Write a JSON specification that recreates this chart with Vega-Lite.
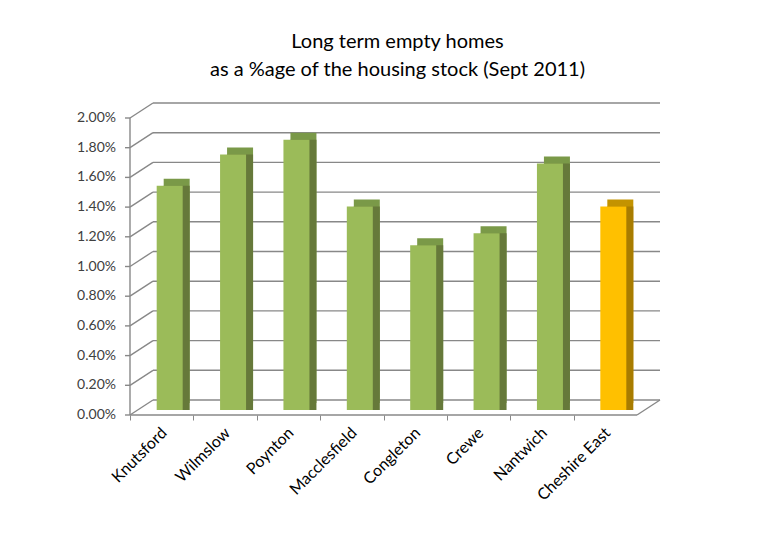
{
  "$schema": "https://vega.github.io/schema/vega-lite/v6.json",
  "width": 507,
  "height": 297,
  "autosize": "none",
  "padding": {"left": 153, "top": 103, "right": 115, "bottom": 135},
  "background": "white",
  "config": {"view": {"stroke": null}, "font": "Lato"},
  "title": {
    "text": ["Long term empty homes", "as a %age of the housing stock (Sept 2011)"],
    "fontSize": 20,
    "fontWeight": "normal",
    "font": "Lato",
    "color": "#000000",
    "lineHeight": 28,
    "anchor": "middle",
    "dx": -9,
    "offset": 22
  },
  "datasets": {
    "bars": [
      {"area": "Knutsford", "value": 0.0151},
      {"area": "Wilmslow", "value": 0.0172},
      {"area": "Poynton", "value": 0.0182},
      {"area": "Macclesfield", "value": 0.0137},
      {"area": "Congleton", "value": 0.0111},
      {"area": "Crewe", "value": 0.0119},
      {"area": "Nantwich", "value": 0.0166},
      {"area": "Cheshire East", "value": 0.0137}
    ],
    "grid": [
      {"v": 0}, {"v": 0.002}, {"v": 0.004}, {"v": 0.006}, {"v": 0.008}, {"v": 0.01},
      {"v": 0.012}, {"v": 0.014}, {"v": 0.016}, {"v": 0.018}, {"v": 0.02}
    ]
  },
  "layer": [
    {
      "data": {"name": "grid"},
      "mark": {"type": "rule", "color": "#888888", "strokeWidth": 1.4},
      "encoding": {
        "y": {"field": "v", "type": "quantitative", "scale": {"domain": [0, 0.02], "nice": false}, "axis": null},
        "x": {"datum": "Knutsford", "type": "nominal", "bandPosition": 0,
          "scale": {"domain": ["Knutsford", "Wilmslow", "Poynton", "Macclesfield", "Congleton", "Crewe", "Nantwich", "Cheshire East"], "paddingInner": 0, "paddingOuter": 0}},
        "x2": {"datum": "Cheshire East", "bandPosition": 1}
      }
    },
    {
      "data": {"name": "grid"},
      "mark": {"type": "rule", "color": "#888888", "strokeWidth": 1.4, "xOffset": -23, "yOffset": 15},
      "encoding": {
        "y": {"field": "v", "type": "quantitative"},
        "y2": {"field": "v"},
        "x": {"datum": "Knutsford", "type": "nominal", "bandPosition": 0},
        "x2": {"datum": "Knutsford", "bandPosition": 0}
      }
    },
    {
      "data": {"name": "grid"},
      "mark": {"type": "rule", "color": "#888888", "strokeWidth": 1.4, "xOffset": -28, "x2Offset": -23, "yOffset": 15},
      "encoding": {
        "y": {"field": "v", "type": "quantitative"},
        "x": {"datum": "Knutsford", "type": "nominal", "bandPosition": 0},
        "x2": {"datum": "Knutsford", "bandPosition": 0}
      }
    },
    {
      "data": {"name": "grid"},
      "mark": {"type": "text", "align": "right", "baseline": "middle", "dx": -37, "dy": 15, "fontSize": 14, "font": "Lato", "color": "#404040"},
      "encoding": {
        "y": {"field": "v", "type": "quantitative"},
        "x": {"datum": "Knutsford", "type": "nominal", "bandPosition": 0},
        "text": {"field": "v", "type": "quantitative", "format": ".2%"}
      }
    },
    {
      "data": {"values": [{"v": 0}]},
      "mark": {"type": "rule", "color": "#888888", "strokeWidth": 1.4, "xOffset": -23, "yOffset": 15},
      "encoding": {
        "y": {"field": "v", "type": "quantitative"},
        "y2": {"field": "v"},
        "x": {"datum": "Cheshire East", "type": "nominal", "bandPosition": 1},
        "x2": {"datum": "Cheshire East", "bandPosition": 1}
      }
    },
    {
      "data": {"values": [{"v": 0, "v2": 0.02}]},
      "mark": {"type": "rule", "color": "#888888", "strokeWidth": 1.4, "xOffset": -23, "yOffset": 15, "y2Offset": 15},
      "encoding": {
        "y": {"field": "v", "type": "quantitative"},
        "y2": {"field": "v2"},
        "x": {"datum": "Knutsford", "type": "nominal", "bandPosition": 0}
      }
    },
    {
      "data": {"values": [{"v": 0}]},
      "mark": {"type": "rule", "color": "#888888", "strokeWidth": 1.4, "xOffset": -23, "x2Offset": -23, "yOffset": 15},
      "encoding": {
        "y": {"field": "v", "type": "quantitative"},
        "x": {"datum": "Knutsford", "type": "nominal", "bandPosition": 0},
        "x2": {"datum": "Cheshire East", "bandPosition": 1}
      }
    },
    {
      "data": {"name": "bars"},
      "mark": {"type": "bar", "width": 26, "xOffset": -8, "x2Offset": -8, "yOffset": 3, "y2Offset": 3},
      "encoding": {
        "x": {"field": "area", "type": "nominal", "sort": null,
          "axis": {"title": null, "domain": false, "bandPosition": 0, "tickOffset": -23, "offset": 15,
            "labelOffset": 2, "tickSize": 5, "tickColor": "#888888", "labelAngle": -45,
            "labelFontSize": 16, "labelColor": "#000000", "labelFont": "Lato", "labelPadding": 10}},
        "y": {"field": "value", "type": "quantitative"},
        "color": {"condition": {"test": "datum.area === 'Cheshire East'", "value": "#c39300"}, "value": "#7a9948"}
      }
    },
    {
      "data": {"name": "bars"},
      "mark": {"type": "bar", "width": 26, "xOffset": -8, "x2Offset": -8, "yOffset": 10, "y2Offset": 10},
      "encoding": {
        "x": {"field": "area", "type": "nominal", "sort": null},
        "y": {"field": "value", "type": "quantitative"},
        "color": {"condition": {"test": "datum.area === 'Cheshire East'", "value": "#a87c00"}, "value": "#66793a"}
      }
    },
    {
      "data": {"name": "bars"},
      "mark": {"type": "bar", "width": 26, "xOffset": -15, "x2Offset": -15, "yOffset": 10, "y2Offset": 10},
      "encoding": {
        "x": {"field": "area", "type": "nominal", "sort": null},
        "y": {"field": "value", "type": "quantitative"},
        "color": {"condition": {"test": "datum.area === 'Cheshire East'", "value": "#ffc000"}, "value": "#9bbb59"}
      }
    }
  ]
}
